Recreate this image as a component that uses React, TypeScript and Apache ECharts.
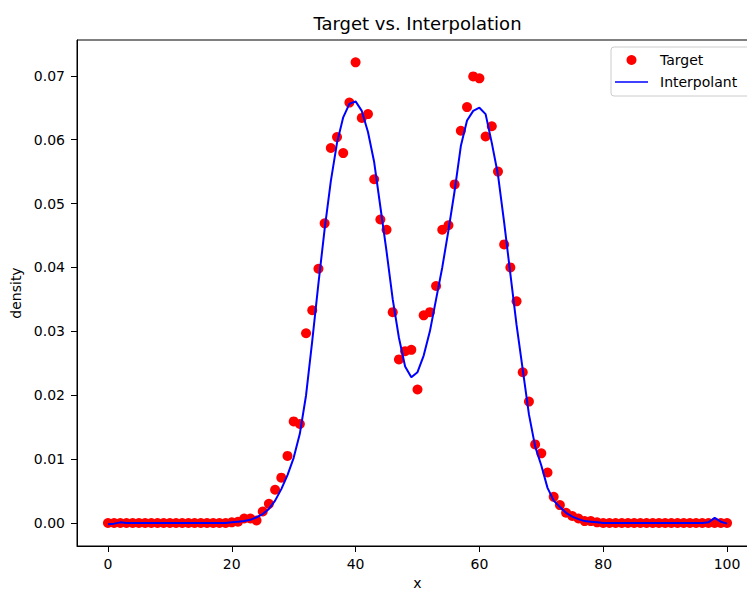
import React, { useEffect, useRef } from "react";
import * as echarts from "echarts";

const xValues: number[] = Array.from({ length: 101 }, (_, i) => i);

const targetValues: number[] = [
  0, 0, 0, 0, 0, 0, 0, 0, 0, 0,
  0, 0, 0, 0, 0, 0, 0, 0, 0, 0,
  0.0001, 0.0002, 0.0007, 0.0007, 0.0004, 0.0018, 0.003, 0.0052, 0.0071, 0.0105,
  0.0159, 0.0155, 0.0297, 0.0333, 0.0398, 0.0469, 0.0587, 0.0604, 0.0579, 0.0658,
  0.0721, 0.0634, 0.064, 0.0538, 0.0475, 0.0459, 0.033, 0.0256, 0.0269, 0.0271,
  0.0209, 0.0325, 0.033, 0.0371, 0.0459, 0.0466, 0.053, 0.0614, 0.0651, 0.0699,
  0.0696, 0.0605, 0.0621, 0.055, 0.0436, 0.04, 0.0347, 0.0236, 0.019, 0.0123,
  0.0109, 0.0079, 0.0041, 0.0028, 0.0016, 0.0011, 0.0007, 0.0003, 0.0003, 0.0001,
  0, 0, 0, 0, 0, 0, 0, 0, 0, 0,
  0, 0, 0, 0, 0, 0, 0, 0, 0, 0,
  0,
];

const interpolantValues: number[] = [
  -0.0002, -0.0001, 0.0001, 0, 0, 0, 0, 0, 0, 0,
  0, 0, 0, 0, 0, 0, 0, 0, 0, 0,
  0.0001, 0.0002, 0.0003, 0.0005, 0.0009, 0.0014, 0.0022, 0.0035, 0.0053, 0.0075,
  0.0102, 0.014, 0.02, 0.0285, 0.0375, 0.046, 0.0535, 0.0595, 0.0635, 0.0656,
  0.066, 0.0645, 0.0612, 0.0565, 0.0495, 0.0425, 0.035, 0.029, 0.0245, 0.0228,
  0.0236, 0.0262, 0.03, 0.035, 0.04, 0.0458, 0.052, 0.059, 0.063, 0.0645,
  0.065, 0.064, 0.0595, 0.0545, 0.047, 0.039, 0.031, 0.024, 0.017, 0.012,
  0.009, 0.0055, 0.0035, 0.0025, 0.0016, 0.001, 0.0006, 0.0003, 0.0002, 0.0001,
  0, 0, 0, 0, 0, 0, 0, 0, 0, 0,
  0, 0, 0, 0, 0, 0, 0, 0.0001, 0.0008, 0.0002,
  -0.0001,
];

const xTicks: number[] = [0, 20, 40, 60, 80, 100];
const yTicks: number[] = [0, 0.01, 0.02, 0.03, 0.04, 0.05, 0.06, 0.07];

const FONT = "DejaVu Sans";

export default function App() {
  const ref = useRef<HTMLDivElement>(null);

  useEffect(() => {
    if (!ref.current) return;
    const chart = echarts.init(ref.current, undefined, { renderer: "svg" });
    const option: any = {
      animation: false,
      backgroundColor: "#ffffff",
      textStyle: { fontFamily: FONT },
      graphic: [
        {
          type: "text",
          x: 417.5,
          y: 23,
          style: {
            text: "Target vs. Interpolation",
            fontFamily: FONT,
            fontSize: 18,
            fill: "#000",
            textAlign: "center",
            textVerticalAlign: "middle",
          },
        },
      ],
      grid: {
        left: 77,
        top: 40,
        width: 681,
        height: 506,
        containLabel: false,
        outerBoundsMode: "none",
        show: true,
        borderColor: "#000",
        borderWidth: 1,
        backgroundColor: "transparent",
      },
      legend: {
        orient: "vertical",
        left: 611,
        top: 47,
        padding: [6, 18, 7, 4],
        itemWidth: 33,
        itemHeight: 10,
        itemGap: 8,
        borderColor: "#cccccc",
        borderWidth: 1,
        borderRadius: 3,
        backgroundColor: "rgba(255,255,255,0.8)",
        textStyle: { fontFamily: FONT, fontSize: 14, color: "#000", padding: [0, 0, 0, 7] },
        data: [
          { name: "Target", icon: "circle" },
          { name: "Interpolant", icon: "path://M0,0H22V1H0Z" },
        ],
      },
      xAxis: {
        type: "value",
        min: -5,
        max: 105,
        name: "x",
        nameLocation: "middle",
        nameGap: 30,
        nameTextStyle: { fontFamily: FONT, fontSize: 14, color: "#000" },
        splitLine: { show: false },
        axisLine: { show: true, onZero: false, lineStyle: { color: "#000", width: 1 } },
        axisTick: { show: true, length: 6, lineStyle: { color: "#000" }, customValues: xTicks },
        axisLabel: {
          fontFamily: FONT,
          fontSize: 14,
          color: "#000",
          margin: 11,
          customValues: xTicks,
          formatter: (v: number) => String(Math.round(v)),
        },
      },
      yAxis: {
        type: "value",
        min: -0.0036,
        max: 0.0756,
        name: "density",
        nameLocation: "middle",
        nameGap: 52,
        nameTextStyle: { fontFamily: FONT, fontSize: 14, color: "#000" },
        splitLine: { show: false },
        axisLine: { show: true, onZero: false, lineStyle: { color: "#000", width: 1 } },
        axisTick: { show: true, length: 6, lineStyle: { color: "#000" }, customValues: yTicks },
        axisLabel: {
          fontFamily: FONT,
          fontSize: 14,
          color: "#000",
          margin: 12,
          customValues: yTicks,
          formatter: (v: number) => v.toFixed(2),
        },
      },
      series: [
        {
          name: "Target",
          type: "scatter",
          data: xValues.map((x, i) => [x, targetValues[i]]),
          symbol: "circle",
          symbolSize: 10,
          itemStyle: { color: "#ff0000", opacity: 1 },
          z: 2,
        },
        {
          name: "Interpolant",
          type: "line",
          data: xValues.map((x, i) => [x, interpolantValues[i]]),
          symbol: "none",
          showSymbol: false,
          lineStyle: { color: "#0000ff", width: 2 },
          itemStyle: { color: "#0000ff" },
          z: 3,
        },
      ],
    };
    chart.setOption(option);
    return () => chart.dispose();
  }, []);

  return (
    <div
      ref={ref}
      style={{ position: "fixed", left: 0, top: 0, width: 747, height: 591, background: "#fff" }}
    />
  );
}
